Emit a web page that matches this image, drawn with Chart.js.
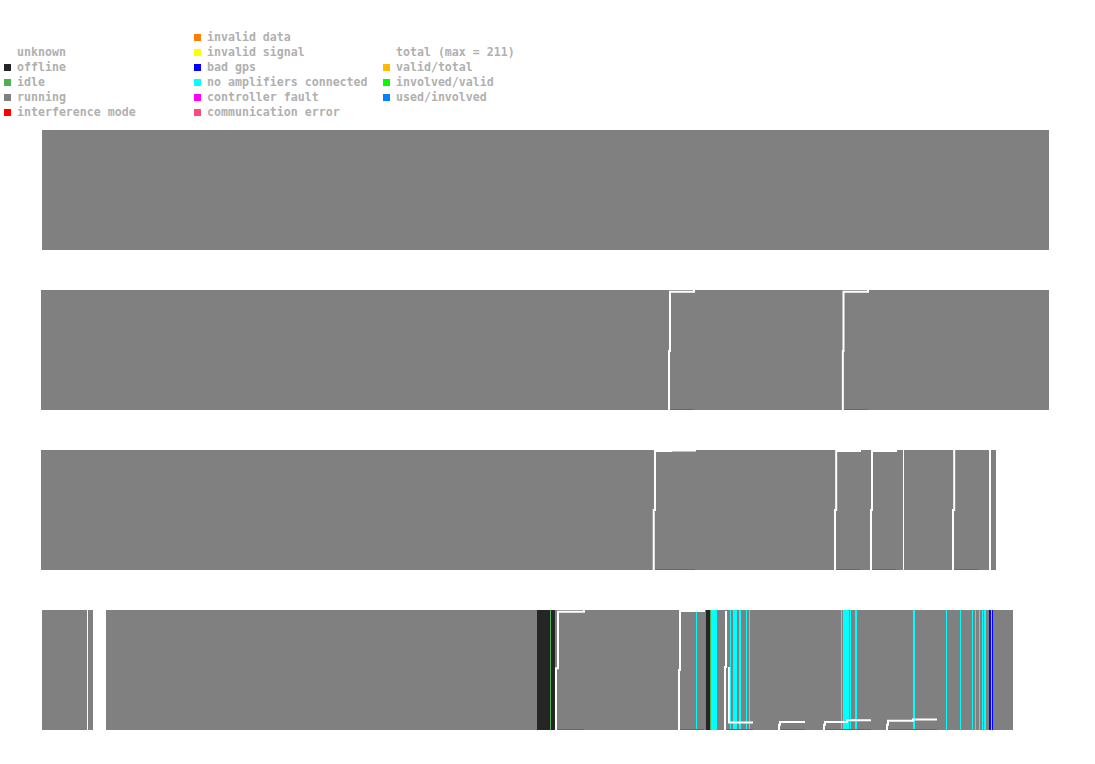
<!DOCTYPE html>
<html>
<head>
<meta charset="utf-8">
<script src="https://cdn.jsdelivr.net/npm/chart.js@4.4.0/dist/chart.umd.min.js"></script>
<style>
body { margin: 0; background: #fff; width: 1095px; height: 764px; position: relative; overflow: hidden;
       font: bold 11.6px "DejaVu Sans Mono", monospace; color: #b0b0b0; }
.box { position: absolute; width: 7px; height: 7px; }
.lbl { position: absolute; line-height: 15px; white-space: pre; }
canvas { position: absolute; left: 41px; }
</style>
</head>
<body>
<div id="legend"></div>
<canvas id="row1" width="1008" height="120" style="top:130px"></canvas>
<canvas id="row2" width="1008" height="120" style="top:290px"></canvas>
<canvas id="row3" width="1008" height="120" style="top:450px"></canvas>
<canvas id="row4" width="1008" height="120" style="top:610px"></canvas>
<script>
// x values are hours since the start of the week
const hourMin = 0;
const hourMax = 168;
const totalMax = 211;

// status spans [from, to]
const running1 = [[0.17, 168]];
const running2 = [[0, 168]];
const running3 = [[0, 143.67], [143.83, 158], [158.33, 159.17]];
const running4 = [[0.17, 7.67], [7.83, 8.67], [10.83, 162]];
const offline4 = [[82.67, 85.67], [110.83, 111.5]];
const idle4 = [[84.83, 85], [85.67, 85.83], [111.5, 111.67]];
const noAmps4 = [[109.17, 109.33], [111.67, 112.67], [114.83, 115], [115.33, 116], [116.33, 116.67],
  [117.5, 117.67], [118, 118.17], [133.33, 133.5], [133.67, 134.67], [134.83, 135], [135.67, 136],
  [145.33, 145.67], [150.83, 151], [153.17, 153.33], [155.17, 155.33], [155.67, 155.83],
  [156.33, 156.5], [156.83, 157], [157.17, 157.5], [158.33, 158.5]];
const badGps4 = [[158, 158.33], [158.5, 158.67]];

// total stations [hour, count], null = no data
const total1 = [[0.17, 211], [168, 211]];
const total2 = [[0, 211], [104.5, 211], null, [104.67, 0], [104.67, 102], [104.83, 205], [108.83, 211],
  [133.5, 211], null, [133.64, 0], [133.64, 102], [133.75, 205], [137.83, 211], [168, 211]];
const total3 = [[0, 211], [102, 211], null, [102.12, 0], [102.12, 104], [102.33, 206], [105, 207], [109, 211],
  [132.2, 211], null, [132.33, 0], [132.33, 104], [132.53, 206], [136.5, 211],
  [138.2, 211], null, [138.33, 0], [138.33, 104], [138.5, 206], [142.5, 211],
  [151.9, 211], null, [152, 0], [152, 104], [152.2, 211], [159.17, 211]];
const total4 = [[0.17, 211], [7.67, 211], null, [7.83, 211], [8.67, 211], null, [10.83, 211], [82.67, 211], null,
  [85.83, 0], [85.83, 107], [86.17, 205], [90.5, 211], [106.2, 211], null,
  [106.33, 0], [106.33, 104], [106.5, 206], [110.5, 211], [110.83, 211], null,
  [114, 0], [114, 109], [114.17, 206], null, [114.67, 109], [114.67, 13], [118.67, 13], null,
  [123, 0], [123, 9], [123.17, 14], [127.33, 14], null,
  [130.5, 0], [130.5, 9], [130.67, 14], [134.33, 17], [138.33, 17], null,
  [141, 0], [141, 9], [141.17, 16], [145.33, 18], [149.33, 18]];

// ratios [from, to, value]
const valid1 = [[0.17, 168, 1]];
const involved1 = [[0.17, 168, 1]];
const used1 = [[0.17, 168, 1]];
const valid2 = [[0, 104.5, 1], [104.67, 133.5, 1], [133.64, 168, 1]];
const involved2 = [[0, 104.5, 1], [104.67, 104.83, 0], [104.83, 133.5, 1], [133.64, 133.8, 0], [133.8, 168, 1]];
const used2 = [[0, 104.5, 1], [104.67, 108.83, 0], [108.83, 133.5, 1], [133.64, 137.83, 0], [137.83, 168, 1]];
const valid3 = [[0, 102, 1], [102.12, 132.2, 1], [132.33, 138.2, 1], [138.33, 151.9, 1], [152, 159.17, 1]];
const involved3 = [[0, 102, 1], [102.12, 102.28, 0], [102.28, 132.2, 1], [132.33, 132.5, 0], [132.5, 138.2, 1],
  [138.33, 138.5, 0], [138.5, 151.9, 1], [152, 152.17, 0], [152.17, 159.17, 1]];
const used3 = [[0, 102, 1], [102.12, 109, 0], [109, 132.2, 1], [132.33, 136.5, 0], [136.5, 138.2, 1],
  [138.33, 142.5, 0], [142.5, 151.9, 1], [152, 156.17, 0], [156.17, 159.17, 1]];
const valid4 = [[0.17, 7.67, 1], [7.83, 8.67, 1], [10.83, 82.67, 1], [85.83, 110.5, 1]];
const involved4 = [[0.17, 7.67, 1], [7.83, 8.67, 1], [10.83, 82.67, 1], [85.83, 86, 0], [86, 106.2, 1],
  [106.33, 106.5, 0], [106.5, 110.5, 1], [114, 114.17, 0], [123, 123.17, 0], [130.5, 130.67, 0], [141, 141.17, 0]];
const used4 = [[0.17, 7.67, 1], [7.83, 8.67, 1], [10.83, 82.67, 1], [85.83, 90.5, 0], [90.5, 106.2, 1],
  [106.33, 110.5, 0], [114, 118.67, 0], [123, 127.33, 0], [130.5, 138.33, 0], [141, 149.33, 0]];

const colors = {
  offline: '#252525', idle: '#4caf50', running: '#808080', interference: '#ff0000',
  invalidData: '#ff8000', invalidSignal: '#ffff00', badGps: '#0000ff', noAmps: '#00ffff',
  controller: '#ff00ff', comm: '#ff4a80',
  total: '#ffffff', valid: '#ffbb00', involved: '#00ff00', used: '#0080ff'
};

// legend
const legendCols = [
  { box: 4, text: 17, first: 1, items: [['unknown', null], ['offline', colors.offline], ['idle', colors.idle],
    ['running', colors.running], ['interference mode', colors.interference]] },
  { box: 194, text: 207, first: 0, items: [['invalid data', colors.invalidData], ['invalid signal', colors.invalidSignal],
    ['bad gps', colors.badGps], ['no amplifiers connected', colors.noAmps], ['controller fault', colors.controller],
    ['communication error', colors.comm]] },
  { box: 383, text: 396, first: 1, items: [['total (max = ' + totalMax + ')', null], ['valid/total', colors.valid],
    ['involved/valid', colors.involved], ['used/involved', colors.used]] }
];
const legend = document.getElementById('legend');
legendCols.forEach(col => {
  col.items.forEach((it, i) => {
    const cy = 37.5 + 15 * (col.first + i);
    if (it[1]) {
      const b = document.createElement('div');
      b.className = 'box';
      b.style.left = col.box + 'px';
      b.style.top = (cy - 3.5) + 'px';
      b.style.background = it[1];
      legend.appendChild(b);
    }
    const t = document.createElement('div');
    t.className = 'lbl';
    t.style.left = col.text + 'px';
    t.style.top = (cy - 7.5) + 'px';
    t.textContent = it[0];
    legend.appendChild(t);
  });
});

function statusPoints(spans) {
  const pts = [];
  spans.forEach(s => { pts.push({ x: s[0], y: 1 }, { x: s[1], y: 0 }); });
  return pts;
}
function ratioPoints(spans) {
  const pts = [];
  spans.forEach(s => { pts.push({ x: s[0], y: s[2] }, { x: s[1], y: s[2] }, { x: s[1], y: null }); });
  return pts;
}
function totalPoints(samples) {
  let lastX = 0;
  return samples.map(p => {
    if (!p) return { x: lastX, y: null };
    lastX = p[0];
    return { x: p[0], y: p[1] / totalMax };
  });
}
function statusSet(spans, color, order) {
  return { data: statusPoints(spans), yAxisID: 'y', stepped: true, fill: 'origin', backgroundColor: color,
    borderColor: 'rgba(0,0,0,0)', borderWidth: 0, pointRadius: 0, order: order };
}
function lineSet(points, color, order) {
  return { data: points, yAxisID: 'yl', stepped: true, fill: false, borderColor: color, borderWidth: 2,
    pointRadius: 0, spanGaps: false, order: order };
}

function makeRow(id, statuses, total, valid, involved, used) {
  const datasets = statuses.concat([
    lineSet(totalPoints(total), colors.total, 1),
    lineSet(ratioPoints(involved), colors.involved, 2),
    lineSet(ratioPoints(used), colors.used, 3),
    lineSet(ratioPoints(valid), colors.valid, 4)
  ]);
  new Chart(document.getElementById(id), {
    type: 'line',
    data: { datasets: datasets },
    options: {
      responsive: false, animation: false, events: [], devicePixelRatio: 1,
      layout: { padding: 0, autoPadding: false },
      plugins: { legend: { display: false }, tooltip: { enabled: false } },
      scales: {
        x: { type: 'linear', min: hourMin, max: hourMax, display: false },
        y: { min: 0, max: 1, display: false },
        yl: { min: 0, max: 0.985, display: false }
      }
    }
  });
}

makeRow('row1', [statusSet(running1, colors.running, 20)], total1, valid1, involved1, used1);
makeRow('row2', [statusSet(running2, colors.running, 20)], total2, valid2, involved2, used2);
makeRow('row3', [statusSet(running3, colors.running, 20)], total3, valid3, involved3, used3);
makeRow('row4', [
  statusSet(running4, colors.running, 20),
  statusSet(offline4, colors.offline, 12),
  statusSet(idle4, colors.idle, 11),
  statusSet(noAmps4, colors.noAmps, 10),
  statusSet(badGps4, colors.badGps, 10)
], total4, valid4, involved4, used4);
</script>
</body>
</html>
